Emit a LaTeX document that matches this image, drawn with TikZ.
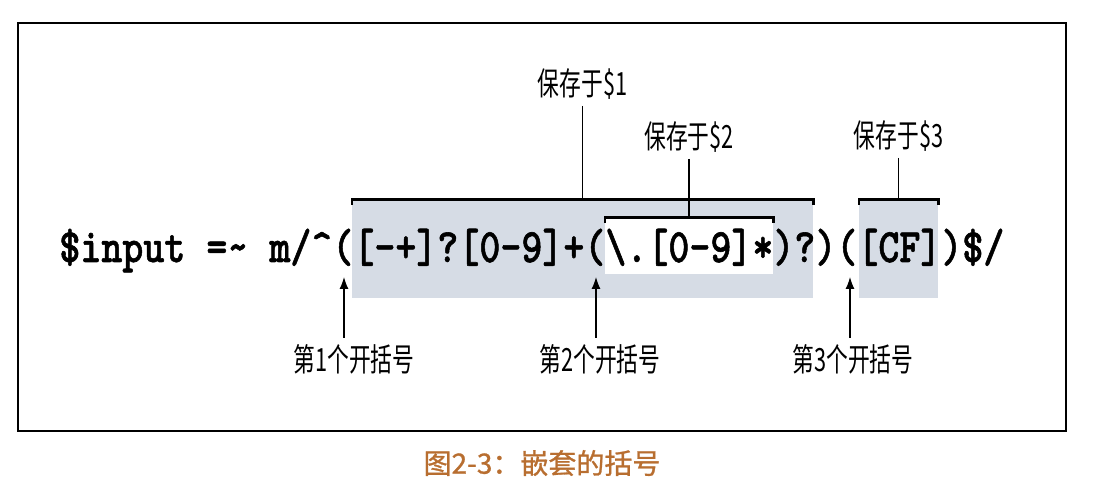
\documentclass[tikz,border=0pt]{standalone}
\usepackage{fontspec}
\newfontfamily\cjk[FakeStretch=0.68]{Noto Sans CJK SC}
\newfontfamily\cjkcap[FakeBold=1]{Noto Sans CJK SC}
\newfontfamily\retype[FakeBold=1.2]{lmmonolt10-bold.otf}
\usetikzlibrary{arrows.meta}
\definecolor{boxgray}{RGB}{214,220,229}
\definecolor{capbrown}{RGB}{184,110,48}

\begin{document}
\begin{tikzpicture}[x=0.5pt, y=-0.5pt,
    every node/.style={inner sep=0pt},
    grp/.style={fill=boxgray, minimum height=49pt},
    note/.style={font=\cjk\fontsize{16}{16}\selectfont},
    brk/.style={line width=1.1pt},
    arr/.style={-{Latex[length=6pt,width=4.5pt]}, line width=0.6pt, shorten <=3pt}]

\useasboundingbox (0,0) rectangle (1104,486);

% Nested capturing parentheses

\draw[line width=1pt] (18,23) rectangle (1066,431);

\node[grp, minimum width=230.5pt] (G1) at (582.5,249) {};
\node[fill=white, minimum width=84pt, minimum height=28pt] (G2) at (689,246) {};
\node[grp, minimum width=39.5pt] (G3) at (898.5,249) {};

\foreach \g in {G1,G2,G3}
    \draw[brk] ([yshift=-2.5pt]\g.north west) -- (\g.north west) -- (\g.north east) -- ([yshift=-2.5pt]\g.north east);

\node[anchor=base west, font=\retype\fontsize{20}{20}\selectfont] (RE) at (59,262)
    {\scalebox{1}[1.2]{\$input =\textasciitilde{} m/\textasciicircum([-+]?[0-9]+(\textbackslash.[0-9]*)?)([CF])\$/}};

\coordinate (P1) at (344,277);
\coordinate (P2) at (596,277);
\coordinate (P3) at (850,277);

\node[note] (S1) at (582.5,84) {保存于\$1};
\node[note] (S2) at (689,137) {保存于\$2};
\node[note] (S3) at (898.5,136) {保存于\$3};
\node[note] (O1) at (354,359) {第1个开括号};
\node[note] (O2) at (600,359) {第2个开括号};
\node[note] (O3) at (853,359) {第3个开括号};

\foreach \s/\g in {S1/G1, S2/G2, S3/G3}
    \draw[line width=0.6pt] ([yshift=-3pt]\s.south) -- (\g.north);

\foreach \o/\p in {O1/P1, O2/P2, O3/P3}
    \draw[arr] (\o.north -| \p) -- (\p);

\node[font=\cjkcap\fontsize{14}{14}\selectfont, text=capbrown] (CAP) at (542,463) {图2-3：嵌套的括号};

\end{tikzpicture}
\end{document}
